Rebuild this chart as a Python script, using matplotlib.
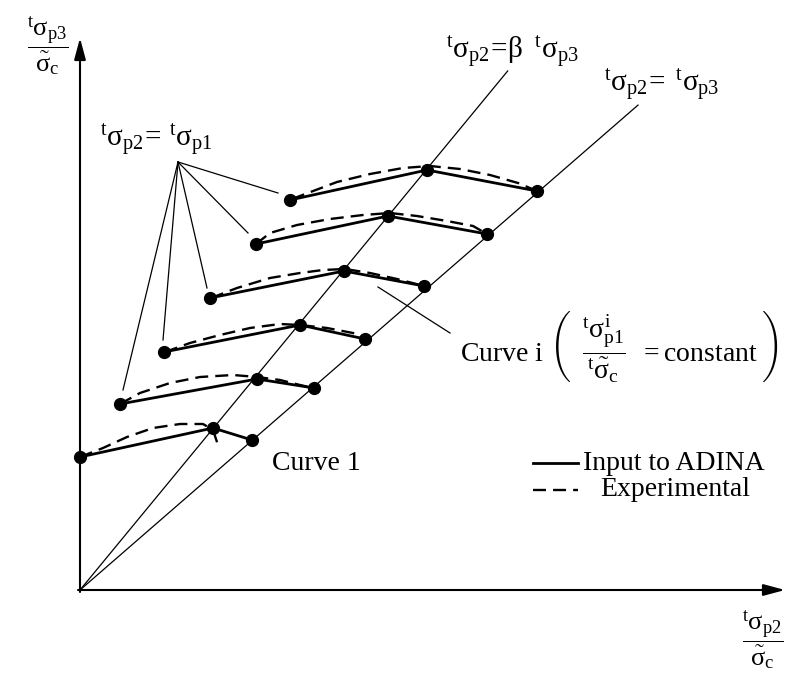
import matplotlib
matplotlib.use("Agg")
import matplotlib.pyplot as plt
import numpy as np

plt.rcParams['font.family'] = ['Liberation Serif', 'DejaVu Serif']
plt.rcParams['mathtext.fontset'] = 'custom'
plt.rcParams['mathtext.rm'] = 'Liberation Serif'
plt.rcParams['mathtext.it'] = 'Liberation Serif'
plt.rcParams['mathtext.bf'] = 'Liberation Serif:bold'

# normalised stresses: x = sigma_p2 / sigma_c, y = sigma_p3 / sigma_c
beta = 0.824
slope_equal = 0.869
beta_line_top = 5.19
equal_line_end = 5.58

# input curves: start point, point on the beta line, point on the equal line
curve_x = [
    [0.00, 1.33, 1.72],
    [0.40, 1.77, 2.34],
    [0.84, 2.20, 2.85],
    [1.30, 2.64, 3.44],
    [1.76, 3.08, 4.07],
    [2.10, 3.47, 4.57],
]
curve_y = [
    [1.33, 1.62, 1.50],
    [1.86, 2.11, 2.02],
    [2.38, 2.65, 2.51],
    [2.92, 3.19, 3.04],
    [3.46, 3.74, 3.56],
    [3.90, 4.20, 3.99],
]

# experimental curves
exp_x = [
    [0.00, 0.23, 0.47, 0.73, 1.00, 1.23, 1.33, 1.38],
    [0.40, 0.60, 0.90, 1.20, 1.53, 1.77, 2.00, 2.20, 2.33],
    [0.85, 1.10, 1.40, 1.70, 2.00, 2.20, 2.47, 2.73, 2.85],
    [1.31, 1.57, 1.90, 2.20, 2.43, 2.65, 2.90, 3.17, 3.44],
    [1.76, 1.90, 2.17, 2.50, 2.83, 3.10, 3.37, 3.67, 3.93, 4.07],
    [2.12, 2.57, 2.90, 3.23, 3.50, 3.80, 4.10, 4.38, 4.57],
]
exp_y = [
    [1.33, 1.42, 1.53, 1.62, 1.66, 1.66, 1.60, 1.45],
    [1.86, 1.97, 2.07, 2.13, 2.15, 2.13, 2.10, 2.05, 2.02],
    [2.38, 2.47, 2.55, 2.62, 2.66, 2.65, 2.62, 2.57, 2.51],
    [2.92, 3.02, 3.12, 3.17, 3.20, 3.21, 3.17, 3.11, 3.04],
    [3.46, 3.57, 3.65, 3.71, 3.75, 3.77, 3.74, 3.69, 3.64, 3.56],
    [3.91, 4.08, 4.16, 4.22, 4.24, 4.21, 4.15, 4.07, 3.99],
]

# leader lines from the "sigma_p2 = sigma_p1" label
leader_apex = (0.98, 4.28)
leader_ends_x = [1.98, 1.68, 1.27, 0.83, 0.43]
leader_ends_y = [3.97, 3.57, 3.02, 2.50, 2.00]

fig = plt.figure(figsize=(7.96, 6.75), dpi=100)
ax = fig.add_axes([0, 0, 1, 1])
ax.set_xlim(-0.80, 7.16)
ax.set_ylim(-0.85, 5.90)
ax.axis('off')

# axes with arrows
arrow = dict(arrowstyle='-|>,head_length=1.3,head_width=0.35', lw=1.5,
             color='black', shrinkA=0, shrinkB=0)
ax.annotate('', xy=(0, 5.52), xytext=(0, -0.02), arrowprops=arrow)
ax.annotate('', xy=(7.05, 0), xytext=(-0.02, 0), arrowprops=arrow)

# reference lines through the origin
ax.plot([0, beta * beta_line_top], [0, beta_line_top], color='black', lw=0.9)
ax.plot([0, equal_line_end], [0, slope_equal * equal_line_end], color='black', lw=0.9)

for xs, ys in zip(exp_x, exp_y):
    ax.plot(xs, ys, color='black', lw=1.7, dashes=(5.5, 3), zorder=3)

for xs, ys in zip(curve_x, curve_y):
    ax.plot(xs, ys, color='black', lw=2.0, marker='o', markersize=8.5, zorder=4)

for ex, ey in zip(leader_ends_x, leader_ends_y):
    ax.plot([leader_apex[0], ex], [leader_apex[1], ey], color='black', lw=0.9)

# curve i pointer
ax.plot([2.98, 3.70], [3.03, 2.57], color='black', lw=0.9)

fs = 20
fm = 21
ax.text(-0.32, 5.44, r'$\dfrac{{}^{t}\sigma_{p3}}{\tilde{\sigma}_{c}}$', fontsize=19,
        ha='center', va='center')
ax.text(6.83, -0.50, r'$\dfrac{{}^{t}\sigma_{p2}}{\tilde{\sigma}_{c}}$', fontsize=19,
        ha='center', va='center')
ax.text(0.20, 4.50, r'${}^{t}\sigma_{p2}\!=\,{}^{t}\sigma_{p1}$', fontsize=fm,
        ha='left', va='center')
ax.text(4.32, 5.38, r'${}^{t}\sigma_{p2}\!=\!\beta\;\;{}^{t}\sigma_{p3}$', fontsize=fm,
        ha='center', va='center')
ax.text(5.82, 5.05, r'${}^{t}\sigma_{p2}\!=\;{}^{t}\sigma_{p3}$', fontsize=fm,
        ha='center', va='center')
ax.text(1.92, 1.27, 'Curve 1', fontsize=fs, ha='left', va='center')
ax.text(3.80, 2.43,
        r'Curve i $\left(\;\;\dfrac{{}^{t}\sigma^{i}_{p1}}{{}^{t}\tilde{\sigma}_{c}}\;\;=\mathrm{constant}\;\right)$',
        fontsize=fs, ha='left', va='center')

# legend
ax.plot([4.53, 4.98], [1.27, 1.27], color='black', lw=2.0)
ax.text(5.03, 1.27, 'Input to ADINA', fontsize=fs, ha='left', va='center')
ax.plot([4.53, 4.98], [1.00, 1.00], color='black', lw=1.7, dashes=(5.5, 3))
ax.text(5.20, 1.00, 'Experimental', fontsize=fs, ha='left', va='center')

fig.savefig('out.png', dpi=100, facecolor='white')
